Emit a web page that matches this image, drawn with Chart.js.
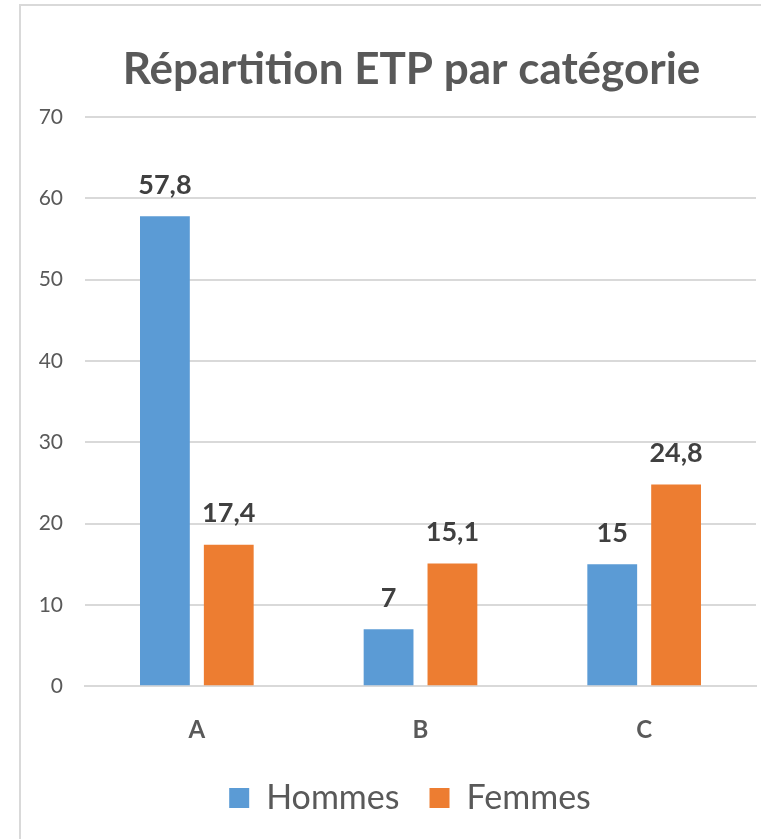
<!DOCTYPE html>
<html lang="fr">
<head>
  <meta charset="UTF-8" />
  <title>Répartition ETP par catégorie</title>
  <script src="https://cdn.jsdelivr.net/npm/chart.js"></script>
  <style>
    html, body { margin: 0; padding: 0; background: #fff; }
    .frame { position: absolute; left: 19px; top: 4px; width: 800px; height: 900px; border: 2px solid #d9d9d9; box-sizing: border-box; }
    .wrap { position: absolute; left: 0; top: 0; width: 761px; height: 839px; }
  </style>
</head>
<body>
  <div class="frame"></div>
  <div class="wrap"><canvas id="etpChart" width="761" height="839"></canvas></div>

  <script>
    const categories = ['A', 'B', 'C'];
    const hommes = [57.8, 7, 15];
    const femmes = [17.4, 15.1, 24.8];
    const yTicks = [0, 10, 20, 30, 40, 50, 60, 70];
    const titre = 'Répartition ETP par catégorie';

    const FONT = 'Lato, "Open Sans", sans-serif';
    const GREY = '#595959';

    // titre centré sur le cadre, pas sur le canvas
    const chartTitle = {
      id: 'chartTitle',
      afterDraw(chart) {
        const c = chart.ctx;
        c.save();
        c.font = 'bold 44px ' + FONT;
        c.fillStyle = GREY;
        c.textAlign = 'center';
        c.textBaseline = 'middle';
        c.fillText(titre, (chart.chartArea.left + chart.chartArea.right) / 2 - 9, 70);
        c.restore();
      }
    };

    // la légende suit le cadre aussi
    const shiftLegend = {
      id: 'shiftLegend',
      afterLayout(chart) {
        chart.legend.left += 22;
        chart.legend.right += 22;
      }
    };

    // valeurs au-dessus des barres, virgule décimale
    const valueLabels = {
      id: 'valueLabels',
      afterDatasetsDraw(chart) {
        const c = chart.ctx;
        c.save();
        c.font = 'bold 27px ' + FONT;
        c.fillStyle = '#404040';
        c.textAlign = 'center';
        c.textBaseline = 'middle';
        chart.data.datasets.forEach((ds, i) => {
          chart.getDatasetMeta(i).data.forEach((bar, j) => {
            const txt = String(ds.data[j]).replace('.', ',');
            c.fillText(txt, bar.x, bar.y - 31);
          });
        });
        c.restore();
      }
    };

    new Chart(document.getElementById('etpChart'), {
      type: 'bar',
      data: {
        labels: categories,
        datasets: [
          { label: 'Hommes', data: hommes, backgroundColor: '#5B9BD5' },
          { label: 'Femmes', data: femmes, backgroundColor: '#ED7D31' }
        ]
      },
      options: {
        responsive: false,
        animation: false,
        devicePixelRatio: 1,
        categoryPercentage: 0.571,
        barPercentage: 0.78,
        layout: { padding: { left: 20, right: 5, top: 117, bottom: 14 } },
        plugins: {
          legend: {
            position: 'bottom',
            labels: {
              color: GREY,
              font: { family: FONT, size: 34 },
              boxWidth: 20,
              boxHeight: 20,
              padding: 30
            }
          },
          tooltip: { enabled: false }
        },
        scales: {
          x: {
            afterFit(scale) { scale.height -= 24; },
            grid: { display: false, drawTicks: false },
            border: { color: '#d9d9d9', width: 2 },
            ticks: { color: GREY, font: { family: FONT, size: 24, weight: 'bold' }, padding: 30 }
          },
          y: {
            min: 0,
            max: 70,
            afterFit(scale) { scale.width = 65; },
            afterBuildTicks(scale) { scale.ticks = yTicks.map(v => ({ value: v })); },
            grid: { color: '#d9d9d9', lineWidth: 2, drawTicks: false },
            border: { display: false },
            ticks: { color: GREY, font: { family: FONT, size: 21 }, padding: 22 }
          }
        }
      },
      plugins: [valueLabels, chartTitle, shiftLegend]
    });
  </script>
</body>
</html>
